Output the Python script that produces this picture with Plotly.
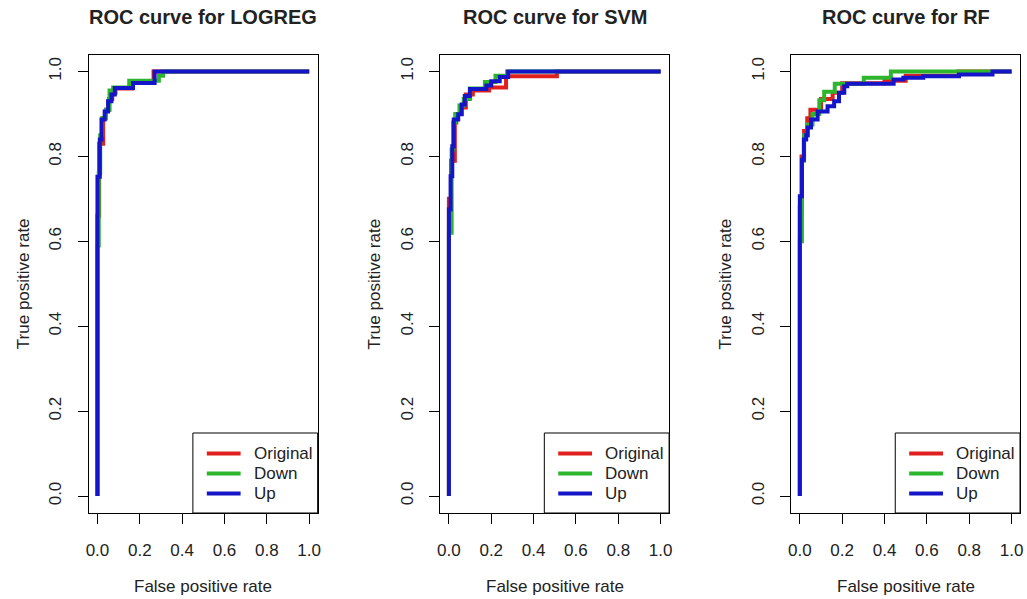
import plotly.graph_objects as go

# ---------------- data (ROC corner points, drawn with hv steps) ----------------
panel_titles = ["ROC curve for LOGREG", "ROC curve for SVM", "ROC curve for RF"]
series_names = ["Original", "Down", "Up"]
tick_vals = [0.0, 0.2, 0.4, 0.6, 0.8, 1.0]
tick_text = ["0.0", "0.2", "0.4", "0.6", "0.8", "1.0"]

logreg_orig_fpr = [0, 0, 0.008, 0.027, 0.04, 0.055, 0.07, 0.085, 0.165, 0.265, 1.0]
logreg_orig_tpr = [0, 0.66, 0.83, 0.89, 0.91, 0.935, 0.95, 0.96, 0.975, 1.0, 1.0]
logreg_down_fpr = [0, 0, 0.006, 0.013, 0.022, 0.04, 0.057, 0.074, 0.15, 0.29, 0.31, 1.0]
logreg_down_tpr = [0, 0.59, 0.76, 0.85, 0.89, 0.91, 0.955, 0.962, 0.978, 0.99, 1.0, 1.0]
logreg_up_fpr = [0, 0, 0.011, 0.019, 0.034, 0.05, 0.066, 0.082, 0.168, 0.27, 1.0]
logreg_up_tpr = [0, 0.752, 0.84, 0.887, 0.906, 0.93, 0.946, 0.961, 0.973, 1.0, 1.0]

svm_orig_fpr = [0, 0, 0.01, 0.028, 0.035, 0.06, 0.08, 0.113, 0.19, 0.27, 0.51, 1.0]
svm_orig_tpr = [0, 0.7, 0.79, 0.88, 0.9, 0.915, 0.946, 0.955, 0.962, 0.989, 1.0, 1.0]
svm_down_fpr = [0, 0, 0.013, 0.02, 0.03, 0.05, 0.07, 0.1, 0.17, 0.22, 0.275, 1.0]
svm_down_tpr = [0, 0.62, 0.816, 0.88, 0.9, 0.92, 0.935, 0.96, 0.975, 0.99, 1.0, 1.0]
svm_up_fpr = [0, 0, 0.008, 0.016, 0.023, 0.044, 0.06, 0.075, 0.099, 0.177, 0.2, 0.24, 0.28, 1.0]
svm_up_tpr = [0, 0.675, 0.753, 0.824, 0.887, 0.899, 0.922, 0.942, 0.959, 0.967, 0.977, 0.987, 1.0, 1.0]

rf_orig_fpr = [0, 0, 0.008, 0.02, 0.035, 0.05, 0.1, 0.155, 0.2, 0.4, 0.5, 0.75, 1.0]
rf_orig_tpr = [0, 0.68, 0.8, 0.86, 0.89, 0.91, 0.935, 0.95, 0.972, 0.978, 0.99, 1.0, 1.0]
rf_down_fpr = [0, 0, 0.01, 0.02, 0.037, 0.06, 0.092, 0.115, 0.165, 0.302, 0.43, 1.0]
rf_down_tpr = [0, 0.6, 0.79, 0.85, 0.875, 0.9, 0.932, 0.952, 0.971, 0.985, 1.0, 1.0]
rf_up_fpr = [0, 0, 0.01, 0.019, 0.03, 0.037, 0.053, 0.084, 0.131, 0.162, 0.185, 0.21, 0.224, 0.443, 0.489, 0.583, 0.752, 0.91, 1.0]
rf_up_tpr = [0, 0.706, 0.792, 0.84, 0.85, 0.868, 0.887, 0.906, 0.918, 0.93, 0.95, 0.965, 0.971, 0.981, 0.985, 0.989, 0.993, 1.0, 1.0]

panels = [
    [(logreg_orig_fpr, logreg_orig_tpr), (logreg_down_fpr, logreg_down_tpr), (logreg_up_fpr, logreg_up_tpr)],
    [(svm_orig_fpr, svm_orig_tpr), (svm_down_fpr, svm_down_tpr), (svm_up_fpr, svm_up_tpr)],
    [(rf_orig_fpr, rf_orig_tpr), (rf_down_fpr, rf_down_tpr), (rf_up_fpr, rf_up_tpr)],
]

# ---------------- style / layout ----------------
W, H = 1027, 599
colors = ["#E0201E", "#2DB52D", "#1414C8"]
FONT = "Liberation Sans, Arial, sans-serif"
TXT = "#222222"
box_px = [(86.5, 316.5), (440, 670), (793, 1023)]   # plot-box left/right in pixels
box_top, box_bot = 54.5, 513


def px(x):
    return x / W


def py(y):
    return 1 - y / H


fig = go.Figure()
annotations = []
shapes = []

for i, (curves, title, (bl, br)) in enumerate(zip(panels, panel_titles, box_px)):
    n = "" if i == 0 else str(i + 1)
    for (fpr, tpr), name, col in zip(curves, series_names, colors):
        fig.add_trace(go.Scatter(
            x=fpr, y=tpr, mode="lines", name=name, showlegend=False,
            line=dict(color=col, width=4, shape="hv"),
            xaxis="x" + n, yaxis="y" + n,
        ))
    axis_common = dict(
        range=[-0.04, 1.04], tickvals=tick_vals, ticktext=tick_text,
        showgrid=False, zeroline=False, showline=True, mirror=True,
        linecolor="black", linewidth=1, ticks="outside", ticklen=10,
        tickwidth=1, tickcolor="black",
        tickfont=dict(family=FONT, size=17, color=TXT),
        fixedrange=True,
    )
    fig.update_layout(**{
        "xaxis" + n: dict(axis_common, domain=[px(bl), px(br)], anchor="y" + n,
                          ticklabelstandoff=12),
        "yaxis" + n: dict(axis_common, domain=[py(box_bot), py(box_top)], anchor="x" + n,
                          tickangle=-90, ticklabelstandoff=10),
    })
    cx = (bl + br) / 2
    # panel title
    annotations.append(dict(x=px(cx), y=py(17), xref="paper", yref="paper",
                            text="<b>" + title + "</b>", showarrow=False,
                            xanchor="center", yanchor="middle",
                            font=dict(family=FONT, size=20, color=TXT)))
    # axis titles
    annotations.append(dict(x=px(cx), y=py(586), xref="paper", yref="paper",
                            text="False positive rate", showarrow=False,
                            xanchor="center", yanchor="middle",
                            font=dict(family=FONT, size=17, color=TXT)))
    annotations.append(dict(x=px(bl - 66), y=py((box_top + box_bot) / 2),
                            xref="paper", yref="paper", textangle=-90,
                            text="True positive rate", showarrow=False,
                            xanchor="center", yanchor="middle",
                            font=dict(family=FONT, size=17, color=TXT)))
    # legend box (R style)
    lg_l, lg_t = br - 125.5, 433
    shapes.append(dict(type="rect", xref="paper", yref="paper",
                       x0=px(lg_l), x1=px(br), y0=py(box_bot), y1=py(lg_t),
                       line=dict(color="black", width=1), fillcolor="white"))
    for k, (name, col) in enumerate(zip(series_names, colors)):
        yy = lg_t + 20.5 + 20 * k
        shapes.append(dict(type="line", xref="paper", yref="paper",
                           x0=px(lg_l + 14), x1=px(lg_l + 48), y0=py(yy), y1=py(yy),
                           line=dict(color=col, width=4)))
        annotations.append(dict(x=px(lg_l + 59), y=py(yy), xref="paper", yref="paper",
                                text=name, showarrow=False, xanchor="left",
                                yanchor="middle",
                                font=dict(family=FONT, size=17, color=TXT)))

fig.update_layout(
    width=W, height=H, margin=dict(l=0, r=0, t=0, b=0),
    paper_bgcolor="white", plot_bgcolor="white",
    annotations=annotations, shapes=shapes, showlegend=False,
)

fig.write_html("out.html",
               config={"displayModeBar": False},
               post_script="document.body.style.margin='0';"
                           "document.body.style.padding='0';"
                           "document.body.style.overflow='hidden';")
